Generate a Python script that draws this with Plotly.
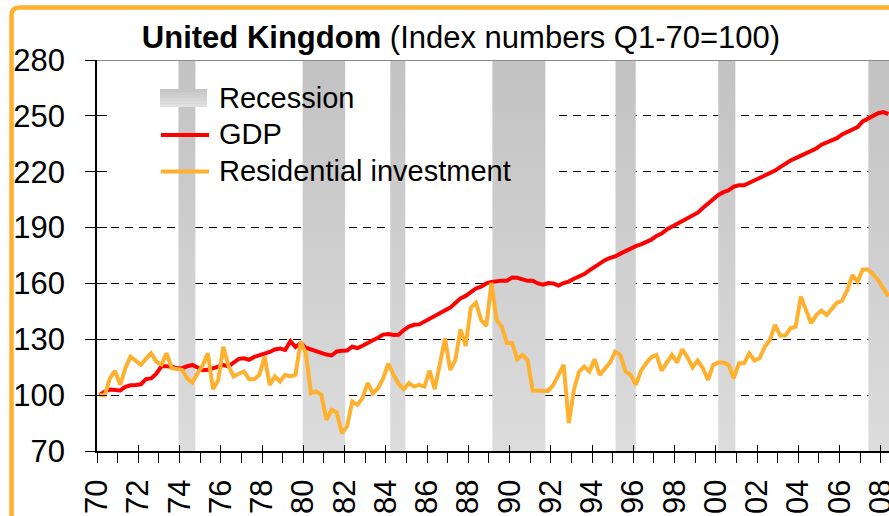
import plotly.graph_objects as go

# ---------------- data (quarterly, 1970Q1 .. 2008Q2, index Q1-70 = 100) ----------------
start_year = 1970
gdp = [
    100, 102, 103, 102.8, 102.5, 104.5, 105.3, 105.5, 105.8, 108.6,
    109, 111.5, 115.5, 115.5, 115.3, 114.5, 114.5, 115.5, 116.2, 114.8,
    113.4, 113.6, 114.3, 115.2, 116.2, 115.5, 117.5, 119.5, 119.8, 119,
    120.5, 121.3, 122, 123.2, 124.5, 125, 124.3, 129, 125.8, 128,
    125.5, 124.5, 123.5, 122.5, 121.8, 121.3, 123.5, 123.8, 124, 126,
    125.3, 126.5, 128.3, 129.5, 130.8, 132.5, 132.8, 132.3, 132.4, 135,
    136.8, 137.8, 138, 139.5, 140.6, 142.5, 144, 145.7, 147, 149.5,
    152, 153.3, 155.3, 157.3, 158.3, 160, 160.8, 161.3, 161.5, 161.5,
    163.2, 163, 162, 161.4, 161.4, 160, 159.3, 160.2, 160, 158.8,
    160.2, 161, 162.5, 163.8, 165, 167, 169, 171, 172.5, 173.7,
    174.5, 176, 177.5, 178.8, 180, 181, 182, 183.5, 185.5, 186.8,
    189, 190.5, 191.5, 193.6, 194.5, 196.6, 198, 200.5, 202.7, 205,
    207.5, 209, 210, 212, 212.7, 212.7, 214, 215, 216.3, 218,
    219.3, 220.6, 222.5, 224.5, 226, 227.3, 228.5, 229.8, 231, 232.5,
    234.5, 235.5, 236.5, 238, 240, 241.5, 242.5, 244, 247, 248.5,
    250.2, 251.4, 252, 251,
]
residential = [
    100, 100, 109, 113, 105.5, 114.5, 120.7, 118.5, 116.3, 119.5,
    122.5, 118, 116.5, 122.5, 114.5, 114, 113.6, 109, 106.8, 111.8,
    116, 122.5, 103.2, 108, 126, 115.7, 110, 111.5, 112.7, 108.6,
    108.6, 110.9, 120.7, 105.5, 110, 107.3, 110.9, 110, 110.9, 128.8,
    122.5, 101, 102, 100.2, 86.8, 92.1, 90.7, 79.6, 83.2, 96.6,
    94.8, 98.4, 106.6, 101, 103.7, 109, 117, 110.9, 106, 103.2,
    106.4, 104.6, 105.5, 104.6, 113.2, 103.2, 117, 130.5, 113.6, 118.9,
    135.4, 126.4, 147, 149.6, 140.4, 137.1, 160.4, 140.4, 136.8, 128,
    128, 119.3, 121.6, 118.9, 102.5, 102.4, 102.3, 102.3, 105.5, 110.9,
    116.3, 85, 102.9, 112.7, 115.4, 112.7, 119.3, 110.9, 114.5, 117.5,
    123.4, 121.6, 112.7, 110.9, 105.5, 113, 117.1, 120.4, 121.6, 113.2,
    117.5, 121.6, 117.5, 124.6, 120.4, 115, 118.6, 114.5, 108.2, 116.25,
    117.5, 117.5, 116.25, 109.1, 117.1, 117.1, 122.5, 118.6, 119.8, 126,
    129.6, 137.7, 132, 132, 135.9, 136.8, 152.9, 145.7, 138.6, 143,
    145.4, 143, 146, 149.6, 150.7, 156.4, 164.5, 160.9, 167.5, 167.5,
    165, 161.8, 157.3, 153.2,
]
# recession periods (start, end) in fractional years
recession_start = [1973.95, 1979.97, 1984.22, 1989.17, 1995.14, 2000.12, 2007.4]
recession_end = [1974.77, 1982.03, 1984.95, 1991.74, 1996.12, 2000.95, 2008.6]
tick_years = list(range(1970, 2009, 2))
tick_labels = ["70", "72", "74", "76", "78", "80", "82", "84", "86", "88",
               "90", "92", "94", "96", "98", "00", "02", "04", "06", "08"]
y_ticks = [70, 100, 130, 160, 190, 220, 250, 280]

# quarterly category positions (points sit in the middle of each quarter)
xq = [start_year + (i + 0.5) / 4 for i in range(len(gdp))]

# ---------------- layout geometry (pixels) ----------------
W, H = 889, 516
L, R, T, B = 97, 0, 60, 65
PW, PH = W - L - R, H - T - B
X_MIN = 1970.0
X_MAX = X_MIN + PW / 20.625
Y_MIN, Y_MAX = 70, 280


def pxx(p):
    return (p - L) / PW


def pxy(p):
    return (H - B - p) / PH


def dx(p):
    return X_MIN + pxx(p) * (X_MAX - X_MIN)


def dy(p):
    return Y_MIN + pxy(p) * (Y_MAX - Y_MIN)


FONT = "Liberation Sans, Arial, sans-serif"
ORANGE = "#FFB02E"
RED = "#FF0000"

fig = go.Figure()

# white legend background (hides the gridlines behind the legend)
lx0, lx1, ly0, ly1 = dx(108), dx(555), dy(195), dy(62)
fig.add_trace(go.Scatter(
    x=[lx0, lx0, lx1, lx1, lx0], y=[ly0, ly1, ly1, ly0, ly0],
    mode="lines", fill="toself", fillcolor="white",
    line=dict(width=0, color="rgba(0,0,0,0)"),
    showlegend=False, hoverinfo="skip"))

# recession bands as one filled trace with a vertical gradient
rx, ry = [], []
for a, b in zip(recession_start, recession_end):
    rx += [a, a, b, b, a, None]
    ry += [Y_MIN, Y_MAX, Y_MAX, Y_MIN, Y_MIN, None]
fig.add_trace(go.Scatter(
    x=rx, y=ry, mode="lines", fill="toself",
    fillgradient=dict(type="vertical", start=Y_MIN, stop=Y_MAX,
                      colorscale=[[0, "#dcdcdc"], [1, "#c2c2c2"]]),
    line=dict(width=0, color="rgba(0,0,0,0)"),
    showlegend=False, hoverinfo="skip", name="Recession"))

fig.add_trace(go.Scatter(x=xq, y=gdp, mode="lines", name="GDP",
                         line=dict(color=RED, width=4), showlegend=False))
fig.add_trace(go.Scatter(x=xq, y=residential, mode="lines",
                         name="Residential investment",
                         line=dict(color=ORANGE, width=4), showlegend=False))

# invisible helper traces for the inner halves of the crossing tick marks
fig.add_trace(go.Scatter(x=[None], y=[None], xaxis="x2", yaxis="y",
                         showlegend=False, hoverinfo="skip"))
fig.add_trace(go.Scatter(x=[None], y=[None], xaxis="x", yaxis="y2",
                         showlegend=False, hoverinfo="skip"))

shapes = []
# top frame line of the plot area
shapes.append(dict(type="line", xref="paper", yref="y", x0=0, x1=1, y0=Y_MAX, y1=Y_MAX,
                   line=dict(color="#8a8a8a", width=2), layer="above"))
# legend recession swatch (gradient via strips)
n = 6
top, bot = 89, 107
for k in range(n):
    g = int(0xc6 + (0xe0 - 0xc6) * k / (n - 1))
    col = "#%02x%02x%02x" % (g, g, g)
    y0 = top + (bot - top) * k / n
    y1 = top + (bot - top) * (k + 1) / n
    shapes.append(dict(type="rect", xref="paper", yref="paper", layer="above",
                       x0=pxx(160), x1=pxx(207), y0=pxy(y1), y1=pxy(y0),
                       fillcolor=col, line=dict(width=0)))
# legend line samples
shapes.append(dict(type="line", xref="paper", yref="paper", layer="above",
                   x0=pxx(161), x1=pxx(209), y0=pxy(135), y1=pxy(135),
                   line=dict(color=RED, width=4)))
shapes.append(dict(type="line", xref="paper", yref="paper", layer="above",
                   x0=pxx(161), x1=pxx(209), y0=pxy(171.5), y1=pxy(171.5),
                   line=dict(color=ORANGE, width=4)))
# orange chart-area border (rounded top-left corner), right/bottom out of view
bx, by, r = 11.5, 7.5, 8
path = (f"M {pxx(bx)},{pxy(H + 20)} L {pxx(bx)},{pxy(by + r)} "
        f"Q {pxx(bx)},{pxy(by)} {pxx(bx + r)},{pxy(by)} L {pxx(W + 20)},{pxy(by)}")
shapes.append(dict(type="path", xref="paper", yref="paper", layer="above",
                   path=path, line=dict(color=ORANGE, width=4.5)))

annotations = []
for txt, yc in [("Recession", 98), ("GDP", 134), ("Residential investment", 170.5)]:
    annotations.append(dict(text=txt, xref="paper", yref="paper",
                            x=pxx(217), y=pxy(yc), xanchor="left", yanchor="middle",
                            showarrow=False, font=dict(family=FONT, size=29, color="black")))

fig.update_layout(
    width=W, height=H,
    margin=dict(l=L, r=R, t=T, b=B, pad=0, autoexpand=False),
    paper_bgcolor="white", plot_bgcolor="white",
    showlegend=False,
    font=dict(family=FONT, color="black"),
    title=dict(text="<b>United Kingdom</b> (Index numbers Q1-70=100)",
               x=461 / W, xanchor="center", xref="container",
               y=1 - 37 / H, yanchor="middle", yref="container",
               font=dict(family=FONT, size=31, color="black"),
               automargin=False),
    xaxis=dict(range=[X_MIN, X_MAX], tickmode="array", tickvals=tick_years,
               ticktext=tick_labels, tickangle=-90, ticks="outside", ticklen=10,
               tickwidth=1, tickcolor="black", showgrid=False, zeroline=False,
               showline=True, linecolor="black", linewidth=2, automargin=False,
               tickfont=dict(family=FONT, size=31, color="black"),
               ticklabelstandoff=4, ticklabeloverflow="allow",
               minor=dict(tickvals=list(range(1971, 2009, 2)), ticks="outside",
                          ticklen=10, tickwidth=1, tickcolor="black", showgrid=False)),
    xaxis2=dict(range=[X_MIN, X_MAX], overlaying="x", anchor="y", side="bottom",
                tickmode="array", tickvals=tick_years, ticks="inside", ticklen=6,
                tickwidth=1, tickcolor="black", showticklabels=False,
                showgrid=False, zeroline=False, showline=False, automargin=False),
    yaxis=dict(range=[Y_MIN, Y_MAX], tickmode="array", tickvals=y_ticks,
               ticks="outside", ticklen=10, tickwidth=1, tickcolor="black",
               showgrid=True, gridcolor="black", gridwidth=1, griddash="8px,6px",
               zeroline=False, showline=True, linecolor="black", linewidth=1.5,
               tickfont=dict(family=FONT, size=31, color="black"),
               ticklabelstandoff=14, automargin=False),
    yaxis2=dict(range=[Y_MIN, Y_MAX], overlaying="y", anchor="x", side="left",
                tickmode="array", tickvals=y_ticks, ticks="inside", ticklen=10,
                tickwidth=1, tickcolor="black", showticklabels=False,
                showgrid=False, zeroline=False, showline=False, automargin=False),
    shapes=shapes,
    annotations=annotations,
)

fig.write_html(
    "out.html",
    config={"displayModeBar": False},
    post_script="document.body.style.margin='0';document.body.style.overflow='hidden';",
)
